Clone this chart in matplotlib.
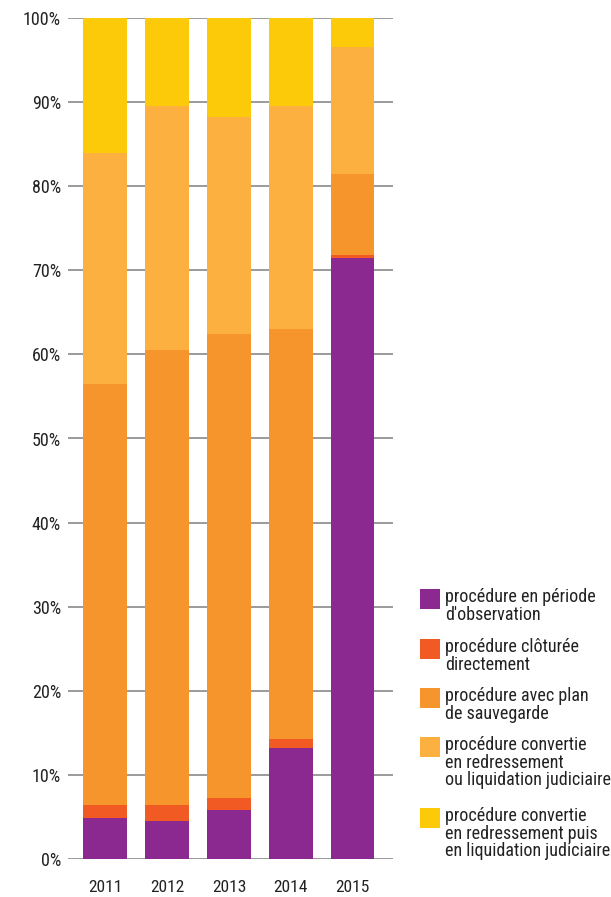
import matplotlib
matplotlib.use("Agg")
import matplotlib.pyplot as plt
from matplotlib.patches import Rectangle
from matplotlib import font_manager

years = ["2011", "2012", "2013", "2014", "2015"]
observation = [4.9, 4.5, 5.8, 13.2, 71.5]
cloturee = [1.5, 1.9, 1.5, 1.1, 0.35]
plan_sauvegarde = [50.1, 54.1, 55.1, 48.7, 9.65]
convertie_rj_lj = [27.4, 29.0, 25.8, 26.5, 15.1]
convertie_rj_puis_lj = [16.1, 10.5, 11.8, 10.5, 3.4]

series = [observation, cloturee, plan_sauvegarde, convertie_rj_lj, convertie_rj_puis_lj]
labels = [
    "procédure en période\nd'observation",
    "procédure clôturée\ndirectement",
    "procédure avec plan\nde sauvegarde",
    "procédure convertie\nen redressement\nou liquidation judiciaire",
    "procédure convertie\nen redressement puis\nen liquidation judiciaire",
]
colors = ["#8B2990", "#F15A22", "#F7952D", "#FBB040", "#FDCA0A"]

names = {f.name for f in font_manager.fontManager.ttflist}
fam = None
for cand in ['Liberation Sans Narrow', 'Roboto Condensed', 'Open Sans Condensed', 'DejaVu Sans Condensed']:
    if cand in names:
        fam = cand
        break
cond_files = [f for f in font_manager.fontManager.ttflist if 'Condensed' in f.fname and 'DejaVuSans' in f.fname and 'Bold' not in f.fname and 'Oblique' not in f.fname]
if fam is None and cond_files:
    fp = font_manager.FontProperties(fname=cond_files[0].fname)
else:
    fp = font_manager.FontProperties(family=fam or 'DejaVu Sans', stretch='condensed')

W, H = 611, 897
fig = plt.figure(figsize=(W / 100, H / 100), dpi=100)
ax = fig.add_axes([68 / W, 1 - 859 / H, (393 - 68) / W, (859 - 18) / H])

x = list(range(len(years)))
bottom = [0.0] * len(years)
for vals, c in zip(series, colors):
    ax.bar(x, vals, bottom=bottom, width=0.70, color=c, zorder=3, linewidth=0)
    bottom = [b + v for b, v in zip(bottom, vals)]

ax.set_xlim(-0.6, 4.65)
ax.set_ylim(0, 100)
ax.set_yticks(range(0, 101, 10))
ax.set_yticklabels([f"{v}%" for v in range(0, 101, 10)], fontproperties=fp, fontsize=13, color="#222222")
ax.set_xticks(x)
ax.set_xticklabels(years, fontproperties=fp, fontsize=12.5, color="#222222")
ax.tick_params(axis='y', length=0, pad=5)
ax.tick_params(axis='x', length=0, pad=15)
ax.grid(axis='y', color="#9a9a9a", linewidth=1.4, zorder=1)
for s in ax.spines.values():
    s.set_visible(False)

# legend
sq_tops = [589, 639, 688, 737, 808]
for top, lab, c in zip(sq_tops, labels, colors):
    fig.add_artist(Rectangle((420 / W, 1 - (top + 20) / H), 20 / W, 20 / H,
                             transform=fig.transFigure, color=c, linewidth=0))
    fig.text(445 / W, 1 - (top - 1) / H, lab, fontproperties=fp, fontsize=13, color="#222222",
             va='top', ha='left', linespacing=0.98)

fig.savefig("out.png", dpi=100)
